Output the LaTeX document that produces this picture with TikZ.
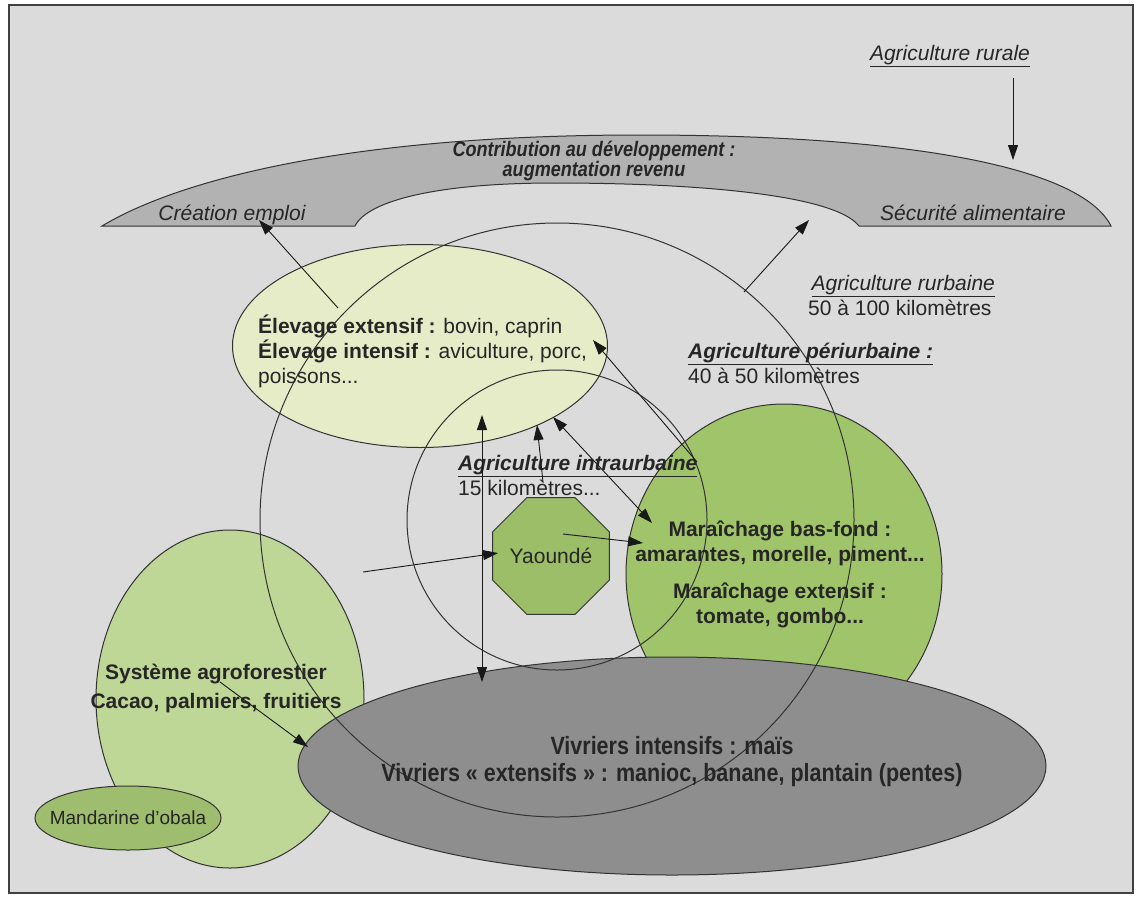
\documentclass[tikz,border=0pt]{standalone}
\usepackage{fontspec}
\setmainfont{Liberation Sans}
\newfontfamily\narrowsans{Liberation Sans}[FakeStretch=0.86]
\usetikzlibrary{arrows.meta,shapes.geometric}

\tikzset{
    zone/.style={ellipse, draw=black!80, line width=1pt, inner sep=0pt},
    ring/.style={circle, draw=black!80, line width=1pt, inner sep=0pt},
    txt/.style={text=black!85, inner sep=0pt, font=\fontsize{21}{25}\selectfont},
    arrowline/.style={draw=black!90, line width=0.9pt, -{Triangle[length=15pt,width=10pt]}},
    twoway/.style={arrowline, {Triangle[length=15pt,width=10pt]}-{Triangle[length=15pt,width=10pt]}}
}

\begin{document}
\begin{tikzpicture}[x=1pt, y=-1pt]
    % Define colors
    \definecolor{sheetgray}{RGB}{219,219,219}
    \definecolor{bandgray}{RGB}{178,178,178}
    \definecolor{foodgray}{RGB}{142,142,142}
    \definecolor{palecream}{RGB}{229,236,199}
    \definecolor{agrogreen}{RGB}{190,214,150}
    \definecolor{gardengreen}{RGB}{160,196,106}
    \definecolor{citrusgreen}{RGB}{158,189,110}
    \definecolor{citygreen}{RGB}{156,190,104}

    % Frame
    \useasboundingbox (0,0) rectangle (1140,903);
    \fill[white] (0,0) rectangle (1140,903);
    \draw[fill=sheetgray, draw=black!75, line width=1.2pt] (9,5) rectangle (1133,893);

    % Band on top
    \draw[fill=bandgray, draw=black!80, line width=1pt]
        (102,226) -- (355,226)
        .. controls (368,200) and (440,183) .. (554,183)
        .. controls (700,183) and (835,195) .. (859,226)
        -- (1111,226)
        .. controls (1080,165) and (900,135) .. (640,135)
        .. controls (330,135) and (170,185) .. (102,226) -- cycle;

    % Filled zones
    \node[zone, fill=agrogreen, minimum width=268pt, minimum height=338pt] (agro) at (230,699) {};
    \node[zone, fill=citrusgreen, minimum width=186pt, minimum height=64pt] (mandarine) at (128,818) {};
    \node[zone, fill=gardengreen, minimum width=316pt, minimum height=340pt] (maraichage) at (784,574) {};
    \node[zone, fill=foodgray, minimum width=748pt, minimum height=218pt] (vivriers) at (672,766) {};
    \node[zone, fill=palecream, minimum width=375pt, minimum height=203pt] (elevage) at (420,346) {};
    \node[txt, regular polygon, regular polygon sides=8, minimum size=114pt,
        fill=citygreen, draw=black!80, line width=1pt] (yaounde) at (551,556) {Yaoundé};

    % Rings
    \node[ring, minimum size=594pt] (rurbaine) at (557,520) {};
    \node[ring, minimum size=300pt] (periurbaine) at (557,520) {};

    % Texts
    \node[txt, anchor=base, font=\fontsize{21}{25}\selectfont\itshape] (rurale) at (950,60) {\underline{Agriculture rurale}};
    \node[txt, align=center, font=\narrowsans\bfseries\itshape\fontsize{21}{20}\selectfont] (contrib) at (594,161)
        {Contribution au développement :\\augmentation revenu};
    \node[txt, anchor=base, font=\fontsize{21}{25}\selectfont\itshape] (emploi) at (232,220) {Création emploi};
    \node[txt, anchor=base, font=\fontsize{21}{25}\selectfont\itshape] (securite) at (973,220) {Sécurité alimentaire};
    \node[txt, anchor=west, align=left] (rurbtext) at (808,295)
        {\,\textit{\underline{Agriculture rurbaine}}\\50 à 100 kilomètres};
    \node[txt, anchor=west, align=left] (peritext) at (688,363)
        {\textbf{\textit{\underline{Agriculture périurbaine :}}}\\40 à 50 kilomètres};
    \node[txt, anchor=west, align=left] (intratext) at (458,475)
        {\textbf{\textit{\underline{Agriculture intraurbaine}}}\\15 kilomètres...};
    \node[txt, anchor=west, align=left] (elevtext) at (258,351)
        {\textbf{Élevage extensif :} bovin, caprin\\\textbf{Élevage intensif :} aviculture, porc,\\poissons...};
    \node[txt, align=center, font=\fontsize{21}{25}\selectfont\bfseries] (maratext) at (780,574)
        {Maraîchage bas-fond :\\amarantes, morelle, piment...\\[12pt]Maraîchage extensif :\\tomate, gombo...};
    \node[txt, align=center, font=\fontsize{21}{29}\selectfont\bfseries] (agrotext) at (216,688)
        {Système agroforestier\\Cacao, palmiers, fruitiers};
    \node[txt, align=center, font=\narrowsans\bfseries\fontsize{25}{27}\selectfont] (vivtext) at (672,762)
        {Vivriers intensifs : maïs\\Vivriers « extensifs » : manioc, banane, plantain (pentes)};
    \node[txt, font=\fontsize{19}{22}\selectfont] (mandtext) at (mandarine) {Mandarine d’obala};

    % Arrow ends
    \coordinate (ruralsrc) at (1013,78);
    \coordinate (ruraltip) at (1013,160);
    \coordinate (elevsrc) at (338,308);
    \coordinate (emploitip) at (259,220);
    \coordinate (rurbsrc) at (744,292);
    \coordinate (securtip) at (809,220);
    \coordinate (elevlow) at (482,415);
    \coordinate (vivtop) at (482,682);
    \coordinate (intrasrc) at (543,482);
    \coordinate (elevtipa) at (537,425);
    \coordinate (elevtipb) at (553,417);
    \coordinate (maratipa) at (652,523);
    \coordinate (yaosrc) at (563,534);
    \coordinate (maratipb) at (643,543);
    \coordinate (leftsrc) at (363,572);
    \coordinate (yaotip) at (498,553);
    \coordinate (marasrc) at (697,462);
    \coordinate (elevtipc) at (593,340);
    \coordinate (agrosrc) at (220,682);
    \coordinate (vivtip) at (308,747);

    % Arrows
    \draw[arrowline] (ruralsrc) -- (ruraltip);
    \draw[arrowline] (elevsrc) -- (emploitip);
    \draw[arrowline] (rurbsrc) -- (securtip);
    \draw[twoway] (elevlow) -- (vivtop);
    \draw[arrowline] (intrasrc) -- (elevtipa);
    \draw[twoway] (elevtipb) -- (maratipa);
    \draw[arrowline] (yaosrc) -- (maratipb);
    \draw[arrowline] (leftsrc) -- (yaotip);
    \draw[arrowline] (marasrc) -- (elevtipc);
    \draw[arrowline] (agrosrc) -- (vivtip);
\end{tikzpicture}
\end{document}
